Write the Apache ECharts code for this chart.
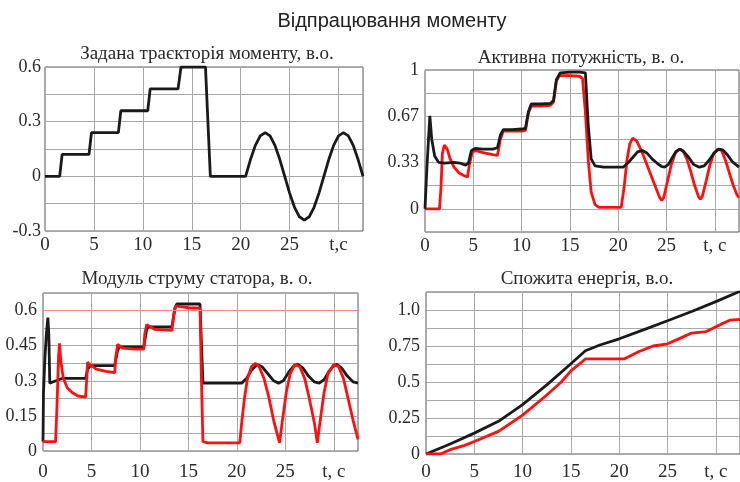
<!DOCTYPE html>
<html>
<head>
<meta charset="utf-8">
<script src="https://cdn.jsdelivr.net/npm/echarts@6.0.0/dist/echarts.min.js"></script>
<style>
  html, body { margin: 0; padding: 0; background: #fff; }
  #chart { width: 740px; height: 482px; }
</style>
</head>
<body>
<div id="chart"></div>
<script>
// --- time axis
var xTicks = [0, 5, 10, 15, 20, 25, 30];
var xLabelsTop = ['0', '5', '10', '15', '20', '25', 't,c'];
var xLabelsOther = ['0', '5', '10', '15', '20', '25', 't, c'];

// --- panel 1: reference torque
var torqueTicks = [-0.3, 0, 0.3, 0.6];
var torqueLabels = ['-0.3', '0', '0.3', '0.6'];
var torqueRef = [
  [0, 0], [1.5, 0], [1.75, 0.12], [4.5, 0.12], [4.75, 0.24], [7.5, 0.24], [7.75, 0.36],
  [10.5, 0.36], [10.75, 0.48], [13.6, 0.48], [13.9, 0.6], [16.4, 0.6], [16.9, 0], [20.5, 0],
  [21, 0.092], [21.5, 0.17], [22, 0.222], [22.5, 0.24], [23, 0.222], [23.5, 0.17], [24, 0.092],
  [24.5, 0], [25, -0.092], [25.5, -0.17], [26, -0.222], [26.5, -0.24], [27, -0.222], [27.5, -0.17],
  [28, -0.092], [28.5, 0], [29, 0.092], [29.5, 0.17], [30, 0.222], [30.5, 0.24], [31, 0.222],
  [31.5, 0.17], [32, 0.092], [32.5, 0]
];

// --- panel 2: active power
var powerTicks = [0, 1 / 3, 2 / 3, 1];
var powerLabels = ['0', '0.33', '0.67', '1'];
var powerBlack = [
  [0, 0], [0.2, 0.3], [0.5, 0.67], [0.7, 0.5], [1.0, 0.38], [1.4, 0.335], [2, 0.33], [3, 0.335],
  [3.6, 0.33], [4.2, 0.315], [4.5, 0.33], [4.8, 0.42], [5.2, 0.435], [6, 0.43], [7, 0.43],
  [7.5, 0.44], [7.8, 0.53], [8.1, 0.57], [9, 0.57], [10, 0.575], [10.4, 0.58], [10.7, 0.7],
  [11, 0.755], [12, 0.755], [13, 0.76], [13.3, 0.78], [13.6, 0.93], [14, 0.98], [15, 0.985],
  [16, 0.985], [16.6, 0.98], [16.9, 0.6], [17.2, 0.36], [17.6, 0.31], [18.5, 0.3], [20.5, 0.3],
  [21, 0.33], [21.5, 0.37], [22, 0.41], [22.5, 0.42], [23, 0.4], [23.5, 0.36], [24, 0.33],
  [24.5, 0.305], [24.8, 0.3], [25.2, 0.32], [25.6, 0.37], [26, 0.415], [26.4, 0.43], [26.8, 0.41],
  [27.3, 0.37], [27.8, 0.32], [28.4, 0.3], [28.9, 0.31], [29.4, 0.35], [29.9, 0.4], [30.4, 0.43],
  [30.8, 0.425], [31.3, 0.39], [31.8, 0.34], [32.5, 0.3]
];
var powerRed = [
  [0, 0], [1.5, 0], [1.65, 0.15], [1.8, 0.4], [2.0, 0.46], [2.3, 0.43], [2.6, 0.36], [3, 0.3],
  [3.5, 0.26], [4, 0.24], [4.4, 0.23], [4.6, 0.32], [4.9, 0.41], [5.3, 0.42], [6, 0.405],
  [7, 0.39], [7.5, 0.385], [7.8, 0.5], [8.1, 0.56], [9, 0.56], [10, 0.56], [10.4, 0.565],
  [10.7, 0.69], [11, 0.74], [12, 0.74], [13, 0.745], [13.3, 0.77], [13.6, 0.92], [13.9, 0.96],
  [15, 0.96], [16, 0.955], [16.3, 0.94], [16.6, 0.7], [16.9, 0.35], [17.2, 0.12], [17.6, 0.03],
  [18, 0.01], [20.3, 0.01], [20.6, 0.15], [20.9, 0.35], [21.2, 0.47], [21.5, 0.51], [21.9, 0.49],
  [22.4, 0.42], [22.9, 0.33], [23.4, 0.24], [23.9, 0.15], [24.3, 0.08], [24.5, 0.06], [24.7, 0.08],
  [25.1, 0.2], [25.5, 0.32], [25.9, 0.4], [26.3, 0.43], [26.7, 0.42], [27.1, 0.36], [27.5, 0.27],
  [27.9, 0.17], [28.3, 0.09], [28.5, 0.07], [28.7, 0.09], [29.1, 0.2], [29.5, 0.32], [29.9, 0.4],
  [30.3, 0.43], [30.7, 0.42], [31.1, 0.35], [31.5, 0.26], [31.9, 0.17], [32.3, 0.1], [32.5, 0.08]
];

// --- panel 3: stator current magnitude
var currentTicks = [0, 0.15, 0.3, 0.45, 0.6];
var currentLabels = ['0', '0.15', '0.3', '0.45', '0.6'];
var currentLimit = 0.6;
var currentBlack = [
  [0, 0.04], [0.05, 0.25], [0.2, 0.4], [0.35, 0.5], [0.5, 0.57], [0.6, 0.5], [0.7, 0.29],
  [1, 0.295], [2, 0.31], [3, 0.31], [4.4, 0.31], [4.6, 0.35], [4.9, 0.365], [6, 0.365],
  [7.4, 0.365], [7.7, 0.43], [7.9, 0.445], [9, 0.445], [10.4, 0.445], [10.7, 0.52], [10.9, 0.53],
  [12, 0.53], [13.3, 0.53], [13.6, 0.61], [13.8, 0.628], [15, 0.628], [16.2, 0.628], [16.4, 0.4],
  [16.5, 0.29], [18, 0.29], [20.5, 0.29], [21, 0.31], [21.5, 0.345], [22.1, 0.37], [22.6, 0.36],
  [23.2, 0.33], [23.8, 0.3], [24.3, 0.29], [24.8, 0.3], [25.4, 0.34], [25.9, 0.365], [26.3, 0.37],
  [26.8, 0.355], [27.4, 0.32], [28, 0.295], [28.5, 0.29], [29, 0.305], [29.5, 0.34], [30, 0.365],
  [30.3, 0.37], [30.8, 0.355], [31.4, 0.32], [32, 0.295], [32.5, 0.29]
];
var currentRed = [
  [0, 0.04], [1.3, 0.04], [1.45, 0.2], [1.6, 0.4], [1.7, 0.46], [1.85, 0.38], [2.1, 0.31],
  [2.5, 0.27], [3, 0.25], [3.6, 0.235], [4.4, 0.23], [4.5, 0.3], [4.6, 0.38], [4.8, 0.37],
  [5.5, 0.35], [6.5, 0.34], [7.4, 0.335], [7.5, 0.4], [7.7, 0.455], [8.2, 0.44], [9.5, 0.435],
  [10.4, 0.435], [10.5, 0.5], [10.7, 0.54], [11.5, 0.52], [13.3, 0.515], [13.5, 0.58], [13.7, 0.62],
  [15, 0.612], [16.2, 0.61], [16.35, 0.3], [16.5, 0.04], [17, 0.035], [20.3, 0.035], [20.5, 0.12],
  [20.8, 0.23], [21.1, 0.31], [21.5, 0.36], [21.9, 0.375], [22.3, 0.36], [22.8, 0.31], [23.3, 0.23],
  [23.8, 0.13], [24.4, 0.035], [24.7, 0.13], [25.1, 0.25], [25.5, 0.33], [26, 0.37], [26.5, 0.36],
  [27, 0.31], [27.5, 0.22], [28, 0.12], [28.3, 0.035], [28.6, 0.13], [29, 0.25], [29.4, 0.33],
  [30, 0.37], [30.5, 0.36], [31, 0.31], [31.5, 0.22], [32, 0.13], [32.5, 0.05]
];

// --- panel 4: consumed energy
var energyTicks = [0, 0.25, 0.5, 0.75, 1.0];
var energyLabels = ['0', '0.25', '0.5', '0.75', '1.0'];
var energyBlack = [
  [0, 0], [2.5, 0.07], [5, 0.145], [7.5, 0.227], [10, 0.343], [12.5, 0.48], [15, 0.627],
  [16.5, 0.717], [18, 0.757], [20, 0.8], [22.5, 0.862], [25, 0.925], [27.5, 0.99], [30, 1.058],
  [32.5, 1.13]
];
var energyRed = [
  [0, 0], [1.5, 0], [2.5, 0.03], [4, 0.06], [5, 0.087], [7.5, 0.157], [10, 0.27], [12.5, 0.41],
  [14, 0.5], [15, 0.577], [16.5, 0.66], [20.5, 0.66], [22, 0.71], [23.5, 0.75], [25, 0.765],
  [26.5, 0.81], [27.5, 0.84], [29, 0.85], [30.5, 0.9], [31.5, 0.93], [32.5, 0.935]
];

var serif = '"Liberation Serif", "Times New Roman", serif';
var textColor = '#2a2a2a';
var gridColor = '#a8a8a8';

function pick(ticks, labels) {
  return function (v) {
    for (var i = 0; i < ticks.length; i++) {
      if (Math.abs(v - ticks[i]) < 1e-6) return labels[i];
    }
    return '';
  };
}

function xAxis(idx, labels, margin) {
  return {
    type: 'value', gridIndex: idx, min: 0, max: 32.5, interval: 5,
    axisLine: { show: false }, axisTick: { show: false },
    splitLine: { show: true, lineStyle: { color: gridColor, width: 1 } },
    axisLabel: {
      margin: margin, color: textColor, fontFamily: serif, fontSize: 19,
      showMaxLabel: false, formatter: pick(xTicks, labels)
    }
  };
}

function yAxis(idx, min, max, step, ticks, labels, margin) {
  return {
    type: 'value', gridIndex: idx, min: min, max: max, interval: step,
    axisLine: { show: false }, axisTick: { show: false },
    splitLine: { show: true, lineStyle: { color: gridColor, width: 1 } },
    axisLabel: {
      margin: margin, color: textColor, fontFamily: serif, fontSize: 18,
      formatter: pick(ticks, labels)
    }
  };
}

function line(idx, data, color) {
  return {
    type: 'line', xAxisIndex: idx, yAxisIndex: idx, data: data,
    showSymbol: false, symbol: 'none', animation: false,
    lineStyle: { color: color, width: 2.8 }
  };
}

function title(text, x, y) {
  return {
    type: 'text', x: x, y: y,
    style: {
      text: text, fill: '#2a2a2a', fontFamily: serif, fontSize: 19,
      textAlign: 'center', textVerticalAlign: 'middle'
    }
  };
}

var box = { show: true, borderColor: '#5a5a5a', borderWidth: 1 };

var chart = echarts.init(document.getElementById('chart'));
chart.setOption({
  animation: false,
  grid: [
    Object.assign({ left: 45, top: 67, width: 318, height: 164 }, box),
    Object.assign({ left: 425, top: 70, width: 314, height: 162 }, box),
    Object.assign({ left: 43, top: 293, width: 315, height: 162 }, box),
    Object.assign({ left: 426, top: 292, width: 314, height: 162 }, box)
  ],
  xAxis: [
    xAxis(0, xLabelsTop, 5),
    xAxis(1, xLabelsOther, 5),
    xAxis(2, xLabelsOther, 12),
    xAxis(3, xLabelsOther, 9)
  ],
  yAxis: [
    yAxis(0, -0.3, 0.6, 0.15, torqueTicks, torqueLabels, 4),
    yAxis(1, -1 / 6, 1, 1 / 6, powerTicks, powerLabels, 6),
    yAxis(2, 0, 0.675, 0.075, currentTicks, currentLabels, 6),
    yAxis(3, 0, 1.125, 0.125, energyTicks, energyLabels, 6)
  ],
  series: [
    line(0, torqueRef, '#1a1a1a'),
    line(1, powerRed, '#ff1010'),
    line(1, powerBlack, '#1a1a1a'),
    Object.assign(line(2, currentBlack, '#1a1a1a'), {
      markLine: {
        silent: true, symbol: 'none', label: { show: false }, animation: false,
        lineStyle: { color: '#ff8a8a', width: 1.2, type: 'solid' },
        data: [{ yAxis: currentLimit }]
      }
    }),
    line(2, currentRed, '#ff1010'),
    line(3, energyBlack, '#1a1a1a'),
    line(3, energyRed, '#ff1010')
  ],
  graphic: [
    {
      type: 'text', x: 392, y: 21,
      style: {
        text: 'Відпрацювання моменту', fill: '#222',
        fontFamily: '"Liberation Sans", Arial, sans-serif', fontSize: 20,
        textAlign: 'center', textVerticalAlign: 'middle'
      }
    },
    title('Задана траєкторія моменту, в.о.', 207, 54),
    title('Активна потужність, в. о.', 581, 58),
    title('Модуль струму статора, в. о.', 197, 279),
    title('Спожита енергія, в.о.', 587, 279)
  ]
});
</script>
</body>
</html>
